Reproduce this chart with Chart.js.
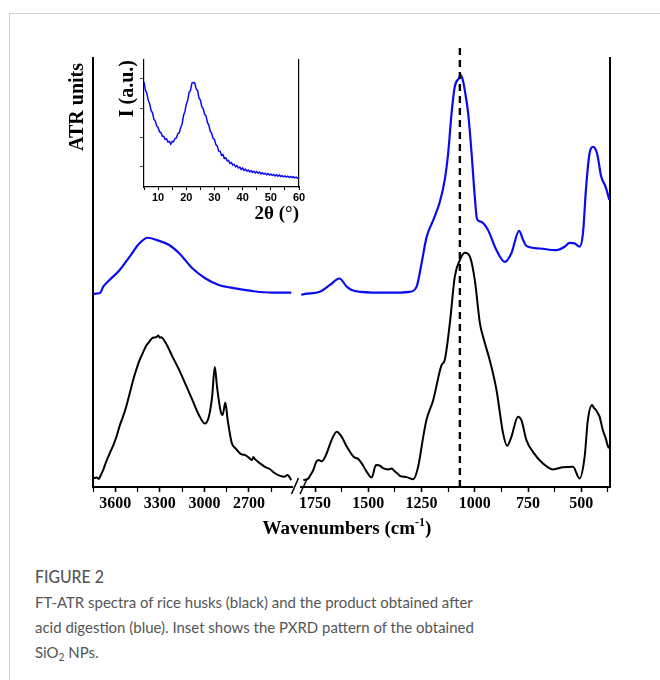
<!DOCTYPE html>
<html><head><meta charset="utf-8">
<script src="https://cdn.jsdelivr.net/npm/chart.js@4.4.1/dist/chart.umd.min.js"></script>
<style>
html,body{margin:0;padding:0;background:#fff;width:660px;height:680px;overflow:hidden;position:relative}
#card{position:absolute;left:9px;top:13px;width:700px;height:700px;border:1px solid #d4d4d4;box-sizing:border-box}
.box{position:absolute}
#xtitle{position:absolute;left:197px;top:517px;width:300px;text-align:center;font:bold 19px "Liberation Serif",serif;color:#000;white-space:nowrap}
#xtitle sup{font-size:12px;vertical-align:8px;line-height:0}
#fig{position:absolute;left:35px;top:566px;font:500 17px Lato,sans-serif;color:#555;transform:scaleX(0.93);transform-origin:0 0;white-space:nowrap}
#cap{position:absolute;left:35px;top:589px;font:16px Lato,sans-serif;line-height:25px;color:#555;white-space:nowrap;transform:scaleX(0.935);transform-origin:0 0}
#cap sub{font-size:11px;vertical-align:-3px;line-height:0}
</style></head>
<body>
<div id="card"></div>
<div class="box" style="left:0;top:0"><canvas id="cL" width="300" height="530"></canvas></div>
<div class="box" style="left:280px;top:0"><canvas id="cR" width="380" height="530"></canvas></div>
<div class="box" style="left:100px;top:40px"><canvas id="cI" width="220" height="190"></canvas></div>
<div id="xtitle">Wavenumbers (cm<sup>-1</sup>)</div>
<div id="fig">FIGURE 2</div>
<div id="cap">FT-ATR spectra of rice husks (black) and the product obtained after<br>acid digestion (blue). Inset shows the PXRD pattern of the obtained<br>SiO<sub>2</sub> NPs.</div>
<script>
// ---------- data ----------
const huskLeftWn = [3750,3725,3710,3703,3681,3660,3637,3615,3592,3570,3548,3525,3503,3480,3459,3437,3415,3392,3370,3348,3325,3310,3300,3292,3259,3215,3170,3125,3081,3037,2997,2970,2948,2930,2915,2892,2877,2859,2843,2815,2790,2770,2750,2730,2703,2680,2670,2659,2625,2592,2560,2525,2490,2459,2440,2415];
const huskLeftVal = [2.0,2.2,1.9,2.4,4.0,6.0,7.9,9.6,11.7,14.3,16.4,18.9,21.8,24.9,27.3,29.5,31.2,32.9,33.9,34.8,34.9,35.3,34.8,34.9,33.5,30.4,27.3,23.8,20.3,16.8,14.8,16.4,21.0,28.0,23.4,17.9,16.8,19.7,15.6,10.2,9.0,8.2,7.6,7.5,6.9,6.3,7.0,6.5,5.5,4.7,4.2,3.2,2.6,2.4,2.8,1.6];
const huskRightWn = [1805,1781,1775,1758,1745,1735,1720,1711,1695,1672,1648,1625,1601,1570,1547,1531,1508,1484,1464,1440,1437,1420,1406,1390,1375,1360,1352,1320,1289,1266,1242,1227,1195,1156,1141,1117,1094,1070,1047,1023,1000,976,961,930,898,867,848,828,797,781,758,727,680,633,586,539,508,484,469,449,440,430,420,414,405,399,392,383,378,370];
const huskRightVal = [1.6,2.0,2.5,4.0,5.8,6.3,6.0,6.3,7.9,11.0,12.9,11.7,9.4,7.1,6.5,5.5,3.6,2.2,5.1,4.8,4.6,4.2,4.1,4.3,3.6,3.0,2.6,2.3,1.8,4.7,11.7,15.6,20.3,28.4,29.6,38.2,49.0,52.9,54.6,53.7,48.3,38.2,35.0,29.6,22.6,12.5,9.6,11.7,16.4,15.6,11.0,8.2,5.5,4.1,4.6,4.7,2.0,7.1,15.6,19.1,18.4,17.9,17.0,16.4,14.6,13.3,12.3,11.0,10.0,9.0];
const silicaLeftWn = [3750,3703,3681,3637,3570,3503,3437,3381,3325,3237,3170,3081,2992,2903,2792,2681,2548,2415];
const silicaLeftVal = [45.0,45.2,46.7,48.3,50.6,53.7,56.8,58.1,57.6,56.4,54.5,51.0,48.6,47.1,46.3,45.7,45.3,45.3];
const silicaRightWn = [1815,1797,1727,1680,1636,1601,1578,1539,1398,1305,1273,1250,1226,1195,1164,1141,1125,1109,1094,1074,1066,1056,1047,1031,1015,1000,989,969,938,898,859,828,792,773,758,695,617,578,555,531,508,492,477,461,445,426,406,386,368];
const silicaRightVal = [44.8,45.0,45.5,47.1,48.6,46.7,45.9,45.5,45.3,45.5,46.7,52.1,58.3,62.2,66.5,71.6,77.8,87.1,93.3,95.3,96.0,94.8,92.5,87.1,77.8,67.7,62.4,61.8,59.9,55.2,52.5,54.5,59.7,57.6,56.2,55.6,55.2,56.0,56.9,56.8,56.0,59.1,70.0,77.8,79.3,77.8,72.3,70.0,66.9];
const markerWn = 1070;
const leftTicks = [3750,3600,3450,3300,3150,3000,2850,2700,2550];
const leftTickLabels = ['3600','3300','3000','2700'];
const rightTicks = [1750,1625,1500,1375,1250,1125,1000,875,750,625,500,375];
const rightTickLabels = ['1750','1500','1250','1000','750','500'];
const xrdAngle = [5,5.5,6,6.5,7,7.5,8,8.5,9,9.5,10,10.5,11,11.5,12,12.5,13,13.5,14,14.5,15,15.5,16,16.5,17,17.5,18,18.5,19,19.5,20,20.5,21,21.5,22,22.5,23,23.5,24,24.5,25,25.5,26,26.5,27,27.5,28,28.5,29,29.5,30,30.5,31,31.5,32,32.5,33,33.5,34,34.5,35,35.5,36,36.5,37,37.5,38,38.5,39,39.5,40,40.5,41,41.5,42,42.5,43,43.5,44,44.5,45,45.5,46,46.5,47,47.5,48,48.5,49,49.5,50,50.5,51,51.5,52,52.5,53,53.5,54,54.5,55,55.5,56,56.5,57,57.5,58,58.5,59,59.5,60];
const xrdIntensity = [3.90,3.62,3.51,3.27,3.16,2.92,2.84,2.62,2.56,2.39,2.34,2.19,2.17,2.04,2.04,1.93,1.95,1.84,1.86,1.77,1.86,1.85,1.96,1.98,2.13,2.15,2.33,2.45,2.74,2.88,3.13,3.27,3.54,3.61,3.86,3.88,3.87,3.66,3.61,3.35,3.28,3.05,2.99,2.79,2.74,2.51,2.42,2.21,2.15,1.97,1.93,1.75,1.71,1.53,1.52,1.39,1.41,1.28,1.30,1.20,1.21,1.11,1.14,1.05,1.08,0.99,1.03,0.95,0.98,0.90,0.95,0.87,0.91,0.84,0.88,0.82,0.86,0.80,0.84,0.78,0.83,0.77,0.81,0.75,0.79,0.74,0.77,0.72,0.76,0.71,0.74,0.70,0.73,0.68,0.72,0.67,0.71,0.66,0.69,0.65,0.68,0.64,0.67,0.63,0.66,0.62,0.65,0.61,0.64,0.60,0.62];
const xrdTicks = [5,10,15,20,25,30,35,40,45,50,55,60];
const xrdTickLabels = ['10','20','30','40','50','60'];
const xrdYTicks = [1,2,3,4];

// ---------- helpers ----------
const SERIF = '"Liberation Serif","Times New Roman",serif';
Chart.defaults.font.family = SERIF;
Chart.defaults.color = '#000';
Chart.defaults.animation = false;
const BLUE = '#0b0bf2';
const pts = (xs, ys) => xs.map((x, i) => ({x, y: ys[i]}));

function xAxis(min, max, tickVals, labels) {
  return {
    type: 'linear', reverse: true, min, max,
    afterBuildTicks: s => { s.ticks = tickVals.slice().sort((a, b) => a - b).map(v => ({value: v})); },
    afterFit: s => { s.height = 30; },
    border: {display: true, color: '#000', width: 2},
    grid: {drawOnChartArea: false, drawTicks: true, tickLength: 5, tickColor: '#000',
           tickWidth: c => (c.tick && labels.includes(String(c.tick.value))) ? 1.6 : 1.2},
    ticks: {autoSkip: false, maxRotation: 0, minRotation: 0, padding: 2,
            font: {family: SERIF, size: 16, weight: 'bold'}, color: '#000',
            callback: v => labels.includes(String(v)) ? String(v) : ''}
  };
}
function lineDs(data, color, width) {
  return {data, borderColor: color, borderWidth: width, pointRadius: 0, fill: false,
          cubicInterpolationMode: 'monotone', tension: 0.4};
}

// ---------- left segment ----------
new Chart(document.getElementById('cL'), {
  type: 'line',
  data: {datasets: [
    lineDs(pts(huskLeftWn, huskLeftVal), '#000', 2),
    lineDs(pts(silicaLeftWn, silicaLeftVal), BLUE, 2.2)
  ]},
  options: {
    responsive: false,
    layout: {padding: {left: 0, right: 8, top: 58, bottom: 13}},
    plugins: {legend: {display: false}, tooltip: {enabled: false}},
    scales: {
      x: xAxis(2410, 3750, leftTicks, leftTickLabels),
      y: {min: 0, max: 100, position: 'left',
          afterFit: s => { s.width = 93; },
          border: {display: true, color: '#000', width: 2},
          grid: {drawOnChartArea: false, drawTicks: false},
          ticks: {display: false},
          title: {display: true, text: 'ATR units ', align: 'end', color: '#000',
                  font: {family: SERIF, size: 20, weight: 'bold'}, padding: {top: 66, bottom: 0}}}
    }
  }
});

// ---------- right segment ----------
const breakMarks = {
  id: 'breakMarks',
  afterDraw(chart) {
    const {ctx, chartArea: {left, bottom}} = chart;
    ctx.save();
    ctx.strokeStyle = '#000'; ctx.lineWidth = 1.5;
    [[-9.5, -2.5], [-1, 6.5]].forEach(([a, b]) => {
      ctx.beginPath(); ctx.moveTo(left + a, bottom + 7); ctx.lineTo(left + b, bottom - 9); ctx.stroke();
    });
    ctx.restore();
  }
};
new Chart(document.getElementById('cR'), {
  type: 'line',
  data: {datasets: [
    {data: [{x: markerWn, y: 0}, {x: markerWn, y: 103}], borderColor: '#000', borderWidth: 2.4,
     borderDash: [7, 5], pointRadius: 0, clip: false, tension: 0},
    lineDs(pts(huskRightWn, huskRightVal), '#000', 2),
    lineDs(pts(silicaRightWn, silicaRightVal), BLUE, 2.2)
  ]},
  options: {
    responsive: false,
    layout: {padding: {left: 21, right: 48, top: 58, bottom: 13}},
    plugins: {legend: {display: false}, tooltip: {enabled: false}},
    scales: {
      x: xAxis(365, 1816, rightTicks, rightTickLabels),
      y: {min: 0, max: 100, position: 'right',
          afterFit: s => { s.width = 2; },
          border: {display: true, color: '#000', width: 2},
          grid: {drawOnChartArea: false, drawTicks: false},
          ticks: {display: false}}
    }
  },
  plugins: [breakMarks]
});

// ---------- inset (PXRD) ----------
new Chart(document.getElementById('cI'), {
  type: 'line',
  data: {datasets: [{data: pts(xrdAngle, xrdIntensity), borderColor: BLUE, borderWidth: 1.5,
                     pointRadius: 0, tension: 0, fill: false}]},
  options: {
    responsive: false,
    layout: {padding: {left: 0, right: 20, top: 20, bottom: 3}},
    plugins: {legend: {display: false}, tooltip: {enabled: false}},
    scales: {
      x: {type: 'linear', min: 5, max: 60,
          afterBuildTicks: s => { s.ticks = xrdTicks.map(v => ({value: v})); },
          afterFit: s => { s.height = 40; },
          border: {display: true, color: '#000', width: 1.2},
          grid: {drawOnChartArea: false, tickLength: 3, tickColor: '#000', tickWidth: 1},
          ticks: {autoSkip: false, maxRotation: 0, padding: 1, color: '#000',
                  font: {family: '"Liberation Sans",Arial,sans-serif', size: 11, weight: 'bold'},
                  callback: v => xrdTickLabels.includes(String(v)) ? String(v) : ''},
          title: {display: true, text: '2θ (°)', align: 'end', color: '#000',
                  font: {family: SERIF, size: 19, weight: 'bold'}, padding: {top: 0, bottom: 2}}},
      y: {min: 0.3, max: 4.65, position: 'left',
          afterBuildTicks: s => { s.ticks = xrdYTicks.map(v => ({value: v})); },
          afterFit: s => { s.width = 44; },
          border: {display: true, color: '#000', width: 1.2},
          grid: {drawOnChartArea: false, tickLength: 4, tickColor: '#444', tickWidth: 1},
          ticks: {callback: () => ''},
          title: {display: true, text: 'I (a.u.)', align: 'end', color: '#000',
                  font: {family: SERIF, size: 20, weight: 'bold'}, padding: {top: 16, bottom: 0}}},
      y2: {min: 0.3, max: 4.65, position: 'right',
           afterFit: s => { s.width = 1; },
           border: {display: true, color: '#000', width: 1.2},
           grid: {drawOnChartArea: false, drawTicks: false},
           ticks: {display: false}}
    }
  }
});
</script>
</body></html>
